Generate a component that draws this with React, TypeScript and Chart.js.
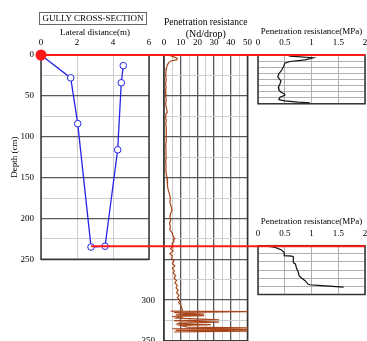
import React, { useEffect, useRef } from 'react';
import { Chart, registerables } from 'chart.js';
Chart.register(...registerables);

const FONT = 'Liberation Serif';

// ---- Left: gully cross-section (lateral distance m vs depth cm)
const gullyX = [0, 1.65, 2.04, 2.78, 3.56, 4.26, 4.46, 4.57];
const gullyDepth = [0, 28, 84, 235, 234, 116, 34, 13];
const surfaceX = [0, 18];
const surfaceDepth = [0, 0];
const floorX = [2.78, 18];
const floorDepth = [234, 234];

// ---- Middle: penetration resistance (Nd/drop) vs depth cm
const penDepth = [0, 2, 4, 6, 7, 9, 12, 16, 20, 25, 30, 35, 40, 45, 50, 55, 60, 65, 70, 72, 76, 80, 85, 90, 95, 100,
  105, 110, 115, 120, 125, 130, 135, 140, 145, 150, 155, 160, 165, 170, 175, 180, 185, 190, 194, 198, 202, 206, 210,
  214, 218, 222, 225, 226, 228, 231, 234, 237, 240, 243, 246, 249, 252, 255, 258, 261, 264, 267, 270, 273, 276, 279,
  282, 285, 288, 291, 294, 297, 300, 303, 306, 309, 312, 313, 313.5, 314, 315, 316, 317, 318, 319, 320, 321, 322, 324,
  325, 327, 328, 329, 330, 331, 333, 334, 335, 336, 337, 338, 339];
const penValue = [2.5, 5.5, 8, 7.5, 4.5, 3, 2, 1.5, 1.2, 1.0, 1.3, 1.0, 1.2, 0.9, 1.1, 1.3, 1.0, 1.4, 2.0, 1.2, 1.0, 1.3,
  1.1, 1.4, 1.2, 1.5, 1.3, 1.0, 1.2, 1.1, 1.3, 1.0, 1.2, 1.1, 1.3, 1.8, 2.2, 2.0, 2.5, 3.2, 3.8, 3.5, 4.2, 4.8, 4.0, 3.5,
  4.0, 3.3, 3.8, 3.5, 5.0, 5.5, 6.5, 5.5, 6.0, 4.8, 5.2, 4.0, 5.5, 3.5, 5.0, 4.5, 6.0, 5.0, 6.5, 5.0, 6.2, 5.5, 7.0, 6.0,
  7.5, 6.5, 8.0, 7.2, 8.5, 7.5, 9.0, 8.0, 9.5, 8.8, 10.0, 10.5, 11, 11, 4, 55, 6, 10, 24, 7, 24, 5, 10, 8, 33, 6, 33, 9,
  8, 28, 10, 14, 55, 5, 55, 7, 55, 6];

// ---- Right top: penetration resistance (MPa) vs depth below surface (cm)
const topDepth = [0, 1.5, 3.4, 5.9, 8, 10, 14, 19, 23, 27, 32, 35.6, 39.5, 43, 45.7, 48, 49.7, 51.8, 54.7, 56.5, 58, 58.7];
const topMPa = [0.54, 0.6, 1.03, 0.88, 0.6, 0.5, 0.48, 0.44, 0.39, 0.37, 0.43, 0.41, 0.38, 0.39, 0.43, 0.5, 0.5, 0.41,
  0.39, 0.5, 0.75, 0.97];

// ---- Right bottom: penetration resistance (MPa) vs depth below gully floor (cm)
const botDepth = [0, 2, 5.3, 8.6, 12.3, 12.7, 13.5, 20.9, 22.5, 27.8, 32, 37.2, 40, 43, 47.5, 48, 49, 51];
const botMPa = [0.12, 0.32, 0.44, 0.49, 0.49, 0.63, 0.66, 0.66, 0.7, 0.72, 0.75, 0.77, 0.82, 0.88, 0.94, 0.97, 1.19, 1.6];

const DARK = '#5a5a5a';
const LIGHT = '#cccccc';

const pts = (xs: number[], ys: number[]) => xs.map((x, i) => ({ x, y: ys[i] }));

const frame = {
  id: 'frame',
  beforeDatasetsDraw(chart: any) {
    const { ctx, chartArea: a } = chart;
    ctx.save();
    ctx.strokeStyle = '#333';
    ctx.lineWidth = 1.5;
    ctx.strokeRect(a.left, a.top, a.right - a.left, a.bottom - a.top);
    ctx.restore();
  },
};

const noPad = (s: any) => {
  s.paddingTop = 0;
  s.paddingBottom = 0;
  s.paddingLeft = 0;
  s.paddingRight = 0;
};

function topAxis(o: any) {
  return {
    type: 'linear',
    position: 'top',
    min: o.min,
    max: o.max,
    afterFit: (s: any) => { s.height = o.height; noPad(s); },
    ticks: {
      stepSize: o.step, autoSkip: false, maxRotation: 0, minRotation: 0, padding: 7,
      font: { family: FONT, size: 9 }, color: '#000', callback: o.cb,
    },
    grid: { drawTicks: false, color: o.gridColor, lineWidth: o.gridWidth || 1 },
    border: { display: false },
    title: {
      display: true, text: o.title, color: '#000',
      font: { family: FONT, size: o.titleSize || 9 }, padding: { top: o.titlePad, bottom: 0 },
    },
  };
}

function baseOptions(padding: any, scales: any) {
  return {
    responsive: false,
    animation: false,
    events: [],
    layout: { padding },
    plugins: { legend: { display: false }, tooltip: { enabled: false }, title: { display: false } },
    scales,
  };
}

const depthGridColor = (c: any) => (c.tick && c.tick.value % 50 === 0 ? DARK : LIGHT);
const depthGridWidth = (c: any) => (c.tick && c.tick.value % 50 === 0 ? 1.3 : 1);

export default function App() {
  const r1 = useRef<HTMLCanvasElement>(null);
  const r2 = useRef<HTMLCanvasElement>(null);
  const r3 = useRef<HTMLCanvasElement>(null);
  const r4 = useRef<HTMLCanvasElement>(null);

  useEffect(() => {
    const charts: Chart[] = [];

    // Right bottom
    charts.push(new Chart(r4.current as any, {
      type: 'scatter',
      data: {
        datasets: [{
          data: pts(botMPa, botDepth), showLine: true, borderColor: '#111', borderWidth: 1.2,
          pointRadius: 0, tension: 0,
        }],
      },
      options: baseOptions({ left: 258, right: 2, top: 210.7, bottom: 46.5 }, {
        x: topAxis({ min: 0, max: 2, step: 0.5, height: 35, titlePad: 5.6, title: 'Penetration resistance(MPa)',
          gridColor: (c: any) => '#b0b0b0' }),
        y: {
          type: 'linear', reverse: true, min: 0, max: 60,
          afterFit: (s: any) => { s.width = 0; noPad(s); },
          ticks: { display: false, stepSize: 10 },
          grid: { drawTicks: false, color: '#b0b0b0' }, border: { display: false },
        },
      }) as any,
      plugins: [frame],
    }));

    // Right top
    charts.push(new Chart(r3.current as any, {
      type: 'scatter',
      data: {
        datasets: [{
          data: pts(topMPa, topDepth), showLine: true, borderColor: '#111', borderWidth: 1.2,
          pointRadius: 0, tension: 0,
        }],
      },
      options: baseOptions({ left: 258, right: 2, top: 20, bottom: 237.2 }, {
        x: topAxis({ min: 0, max: 2, step: 0.5, height: 35, titlePad: 6.5, title: 'Penetration resistance(MPa)',
          gridColor: (c: any) => '#b0b0b0' }),
        y: {
          type: 'linear', reverse: true, min: 0, max: 60,
          afterFit: (s: any) => { s.width = 0; noPad(s); },
          ticks: { display: false, stepSize: 7.5 },
          grid: { drawTicks: false, color: '#b0b0b0' }, border: { display: false },
        },
      }) as any,
      plugins: [frame],
    }));

    // Middle
    charts.push(new Chart(r2.current as any, {
      type: 'scatter',
      data: {
        datasets: [{
          data: pts(penValue, penDepth), showLine: true, borderColor: '#a8461a', borderWidth: 1.2,
          pointRadius: 0, tension: 0,
        }],
      },
      options: baseOptions({ left: 124, right: 119.5, top: 10, bottom: 0 }, {
        x: topAxis({
          min: 0, max: 50, step: 5, height: 45, titlePad: 6, titleSize: 10,
          title: ['Penetration resistance', '(Nd/drop)'],
          cb: (v: number) => (v % 10 === 0 ? String(v) : ''),
          gridColor: (c: any) => (c.tick && c.tick.value % 10 === 0 ? DARK : LIGHT),
          gridWidth: (c: any) => (c.tick && c.tick.value % 10 === 0 ? 1.3 : 1),
        }),
        y: {
          type: 'linear', position: 'left', reverse: true, min: 0, max: 350,
          afterFit: (s: any) => { s.width = 40; noPad(s); },
          ticks: {
            stepSize: 25, autoSkip: false, padding: 9, font: { family: FONT, size: 9 }, color: '#000',
            callback: (v: number) => (v >= 300 && v % 50 === 0 ? String(v) : ''),
          },
          grid: { drawTicks: false, color: depthGridColor, lineWidth: depthGridWidth },
          border: { display: false },
        },
      }) as any,
      plugins: [frame],
    }));

    // Left
    charts.push(new Chart(r1.current as any, {
      type: 'scatter',
      data: {
        datasets: [
          {
            data: pts(surfaceX, surfaceDepth), showLine: true, borderColor: '#ff1a1a', borderWidth: 2,
            pointRadius: [4.5, 0], pointBackgroundColor: '#ff1a1a', pointBorderColor: '#ff1a1a',
            tension: 0, clip: false,
          },
          {
            data: pts(floorX, floorDepth), showLine: true, borderColor: '#ff1a1a', borderWidth: 2,
            pointRadius: 0, tension: 0, clip: false,
          },
          {
            data: pts(gullyX, gullyDepth), showLine: true, borderColor: '#2424e8', borderWidth: 1.3,
            pointRadius: gullyX.map((_, i) => (i === 0 ? 0 : 3.3)), pointBackgroundColor: '#fff',
            pointBorderColor: '#2424e8', pointBorderWidth: 1, tension: 0, clip: false,
          },
        ],
      },
      options: baseOptions({ left: 0, right: 218, top: 20, bottom: 81.7 }, {
        x: topAxis({ min: 0, max: 6, step: 2, height: 35, titlePad: 7, title: 'Lateral distance(m)',
          gridColor: (c: any) => LIGHT }),
        y: {
          type: 'linear', position: 'left', reverse: true, min: 0, max: 250,
          afterFit: (s: any) => { s.width = 41; noPad(s); },
          ticks: {
            stepSize: 25, autoSkip: false, padding: 7, font: { family: FONT, size: 9 }, color: '#000',
            callback: (v: number) => (v % 50 === 0 ? String(v) : ''),
          },
          grid: { drawTicks: false, color: depthGridColor, lineWidth: depthGridWidth },
          border: { display: false },
          title: {
            display: true, text: 'Depth (cm)', color: '#000', font: { family: FONT, size: 9 },
            padding: { top: 9, bottom: 0 },
          },
        },
      }) as any,
      plugins: [frame],
    }));

    return () => charts.forEach((c) => c.destroy());
  }, []);

  const cv: React.CSSProperties = { position: 'absolute', left: 0, top: 0, width: 367, height: 341 };
  return (
    <div style={{ position: 'absolute', left: 0, top: 0, width: 367, height: 341, overflow: 'hidden', background: '#fff' }}>
      <canvas ref={r4} width={367} height={341} style={cv} />
      <canvas ref={r3} width={367} height={341} style={cv} />
      <canvas ref={r2} width={367} height={341} style={cv} />
      <canvas ref={r1} width={367} height={341} style={cv} />
      <div style={{
        position: 'absolute', left: 39, top: 12, width: 106, height: 11, border: '1px solid #666',
        fontFamily: FONT, fontSize: 9, lineHeight: '11px', textAlign: 'center', color: '#000', whiteSpace: 'nowrap',
      }}>GULLY CROSS-SECTION</div>
    </div>
  );
}
